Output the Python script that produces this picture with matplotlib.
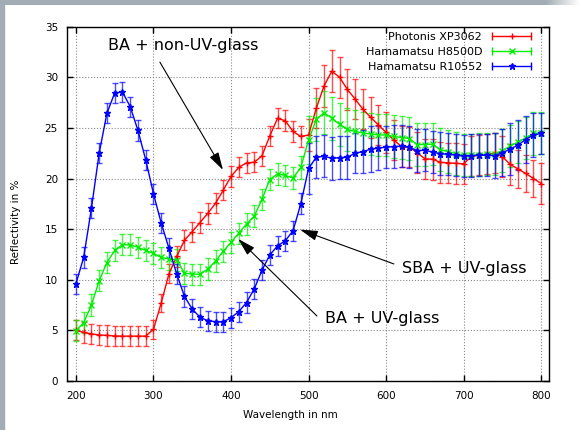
import numpy as np
import matplotlib.pyplot as plt
from matplotlib.lines import Line2D
from matplotlib.legend_handler import HandlerBase
from matplotlib.patches import Rectangle

# wavelength grid of the measurement (nm)
wavelength = np.arange(200, 810, 10)

photonis = [5.0, 4.8, 4.65, 4.55, 4.5, 4.45, 4.43, 4.43, 4.43, 4.43,
            5.1, 7.7, 10.6, 12.3, 13.9, 14.75, 15.65, 16.55, 17.55, 18.85,
            20.2, 21.1, 21.55, 21.6, 22.25, 24.2, 25.95, 25.7, 24.65, 24.15,
            24.3, 26.95, 29.15, 30.6, 30.0, 28.8, 27.85, 26.85, 26.05, 25.3,
            24.55, 23.8, 23.15, 23.1, 22.55, 21.95, 21.9, 21.6, 21.55, 21.5,
            21.45, 22.2, 22.3, 22.4, 22.5, 22.15, 21.4, 20.95, 20.5, 20.0,
            19.5]
photonis_err = [1.0, 1.0, 1.0, 1.0, 1.0, 1.0, 1.0, 1.0, 1.0, 1.0,
                0.95, 0.9, 0.95, 1.0, 1.0, 1.0, 1.0, 1.0, 1.0, 1.0,
                1.0, 1.0, 1.0, 1.0, 1.0, 1.0, 1.0, 1.05, 1.0, 1.0,
                1.55, 2.0, 2.05, 2.05, 2.05, 2.05, 2.0, 2.0, 2.0, 2.0,
                2.0, 2.0, 2.0, 2.0, 2.0, 2.0, 2.0, 2.0, 2.0, 2.0,
                2.0, 2.0, 2.0, 2.0, 2.0, 2.0, 2.0, 1.9, 1.8, 1.8,
                2.0]

h8500d = [4.97, 5.75, 7.5, 9.9, 11.7, 12.9, 13.45, 13.45, 13.2, 12.9,
          12.6, 12.2, 12.05, 11.95, 10.65, 10.55, 10.55, 11.05, 11.85, 12.8,
          13.7, 14.6, 15.5, 16.3, 17.95, 19.9, 20.45, 20.3, 20.05, 21.1,
          23.8, 25.85, 26.5, 25.95, 25.35, 24.85, 24.65, 24.5, 24.4, 24.3,
          24.3, 24.15, 24.05, 23.95, 23.35, 23.35, 23.4, 22.85, 22.65, 22.45,
          22.3, 22.3, 22.35, 22.4, 22.4, 22.75, 23.2, 23.6, 24.0, 24.45,
          24.5]
h8500d_err = [1.05, 1.05, 1.05, 1.05, 1.05, 1.05, 1.05, 1.05, 1.05, 1.05,
              1.05, 1.05, 1.05, 1.05, 1.05, 1.05, 1.05, 1.05, 1.05, 1.05,
              1.05, 1.05, 1.05, 1.05, 1.05, 1.07, 1.05, 1.05, 1.1, 1.15,
              2.4, 2.1, 2.1, 2.1, 2.1, 2.1, 2.1, 2.1, 2.1, 2.1,
              2.1, 2.1, 2.1, 2.1, 2.1, 2.1, 2.1, 2.1, 2.1, 2.1,
              2.1, 2.1, 2.1, 2.1, 2.1, 2.1, 2.1, 2.1, 2.1, 2.1,
              2.05]

r10552 = [9.6, 12.2, 17.05, 22.5, 26.45, 28.45, 28.55, 27.1, 24.75, 21.85,
          18.5, 15.6, 13.1, 10.55, 8.35, 7.1, 6.3, 5.95, 5.85, 5.85,
          6.25, 6.85, 7.75, 9.1, 10.95, 12.45, 13.35, 13.85, 14.85, 17.5,
          21.0, 22.1, 22.2, 22.0, 22.05, 22.1, 22.5, 22.65, 22.9, 23.0,
          23.1, 23.15, 23.2, 23.1, 22.75, 22.8, 22.6, 22.45, 22.4, 22.3,
          22.2, 22.25, 22.3, 22.3, 22.25, 22.55, 22.9, 23.3, 23.85, 24.3,
          24.45]
r10552_err = [1.0, 1.0, 1.0, 1.0, 1.0, 1.0, 1.0, 1.0, 1.0, 1.0,
              1.0, 1.0, 1.0, 1.0, 1.0, 1.0, 1.0, 1.0, 1.0, 1.0,
              1.0, 1.0, 1.0, 1.0, 1.0, 1.0, 1.0, 1.0, 1.0, 1.05,
              2.55, 2.05, 2.05, 2.1, 2.1, 2.1, 2.0, 2.1, 2.3, 2.2,
              2.1, 2.1, 2.1, 2.1, 2.1, 2.1, 2.1, 2.1, 2.1, 2.1,
              2.1, 2.1, 2.1, 2.1, 2.2, 2.3, 2.55, 2.5, 2.3, 2.2,
              2.0]

series = [
    ("Photonis XP3062", photonis, photonis_err, "#ff0000", "+", 5),
    ("Hamamatsu H8500D", h8500d, h8500d_err, "#00ee00", "x", 4),
    ("Hamamatsu R10552", r10552, r10552_err, "#0000ff", "*", 5),
]


class KeySample(HandlerBase):
    """gnuplot-like key: line with end caps and the point in the middle"""
    def create_artists(self, legend, orig_handle, xdescent, ydescent,
                       width, height, fontsize, trans):
        c = orig_handle.get_color()
        y = height / 2 - ydescent
        x0, x1 = -xdescent, width - xdescent
        line = Line2D([x0, x1], [y, y], color=c, lw=1.0)
        caps = Line2D([x0, x1], [y, y], color=c, ls="none", marker="|",
                      ms=6, mew=1.0)
        mark = Line2D([(x0 + x1) / 2], [y], color=c, ls="none",
                      marker=orig_handle.get_marker(),
                      ms=orig_handle.get_markersize(),
                      mew=orig_handle.get_markeredgewidth())
        for a in (line, caps, mark):
            a.set_transform(trans)
        return [line, caps, mark]


plt.rcParams["font.family"] = "DejaVu Sans"

fig = plt.figure(figsize=(5.8, 4.3), dpi=100)

# slide background: grey band on top fading out to the right, grey strip on the left
band = fig.add_axes([0, 1 - 5 / 430, 1, 5 / 430], zorder=0)
fade = np.ones((1, 580, 4))
fade[..., :3] = [0.639, 0.675, 0.706]
fade[0, 545:, 3] = np.linspace(1, 0, 35)
band.imshow(fade, aspect="auto", extent=(0, 1, 0, 1))
band.set_axis_off()
fig.patches.append(Rectangle((0, 0), 4 / 580, 1, transform=fig.transFigure,
                             color="#a3acb4", zorder=0))

ax = fig.add_axes([0.1155, 0.114, 0.831, 0.824])

handles = []
labels = []
for label, vals, errs, color, marker, ms in series:
    eb = ax.errorbar(wavelength, vals, yerr=errs, color=color, lw=1.0,
                     marker=marker, ms=ms, mew=1.0, capsize=2.2,
                     elinewidth=1.0, capthick=1.0)
    for part in eb[1] + eb[2]:
        part.set_alpha(0.7)
    handles.append(eb[0])
    labels.append(label)

ax.set_xlim(188.5, 810)
ax.set_ylim(0, 35)
ax.set_xticks(np.arange(200, 801, 100))
ax.set_yticks(np.arange(0, 36, 5))
ax.grid(True, ls=":", color="#888888", lw=0.8)
ax.tick_params(direction="in", top=True, right=True, length=4, width=1,
               labelsize=7.5)
ax.tick_params(axis="x", pad=7)
ax.tick_params(axis="y", pad=6.5)
for s in ax.spines.values():
    s.set_linewidth(1.0)

fig.text(16 / 580, 1 - 222 / 430, "Reflectivity in %", rotation=90,
         ha="center", va="center", fontsize=7.5)
fig.text(290 / 580, 1 - 415 / 430, "Wavelength in nm", ha="center",
         va="center", fontsize=7.5)

ax.legend(handles, labels, handler_map={Line2D: KeySample()}, loc="upper right",
          bbox_to_anchor=(0.963, 0.984), frameon=False, markerfirst=False,
          fontsize=8, handlelength=3.5, handletextpad=0.9, labelspacing=0.45,
          borderaxespad=0, borderpad=0)

arrow = dict(arrowstyle="-|>,head_length=0.6,head_width=0.17", color="black",
             lw=0.8, mutation_scale=18, shrinkA=0, shrinkB=0)
ax.text(241, 33.1, "BA + non-UV-glass", fontsize=11.5, ha="left", va="center")
ax.annotate("", xy=(389.6, 20.85), xytext=(308.3, 31.5), arrowprops=arrow)
ax.text(620, 11.07, "SBA + UV-glass", fontsize=11.5, ha="left", va="center")
ax.annotate("", xy=(489, 14.95), xytext=(610, 11.56), arrowprops=arrow)
ax.text(521, 6.13, "BA + UV-glass", fontsize=11.5, ha="left", va="center")
ax.annotate("", xy=(409.3, 14.03), xytext=(510.8, 6.42), arrowprops=arrow)

fig.savefig("out.png", dpi=100)
